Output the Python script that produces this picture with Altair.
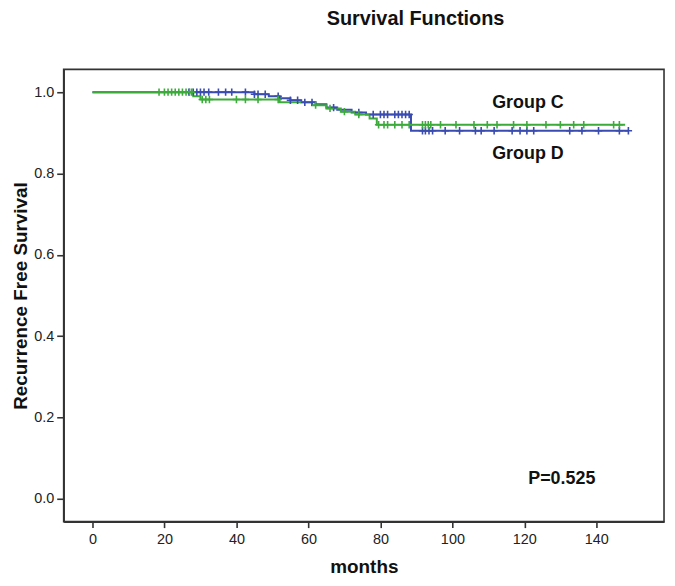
import altair as alt
import pandas as pd

# Kaplan-Meier step curves (time in months, survival)
c_time = [0, 28, 30, 52, 61, 65, 69, 73, 77, 79, 148]
c_surv = [1.0, 0.99, 0.982, 0.975, 0.968, 0.96, 0.952, 0.945, 0.935, 0.92, 0.92]
d_time = [0, 45, 49, 52, 55, 58, 62, 65, 68, 72, 76, 88.5, 149]
d_surv = [1.0, 0.995, 0.99, 0.985, 0.98, 0.975, 0.97, 0.962, 0.957, 0.95, 0.945, 0.905, 0.905]

# censored observations
c_cens = [18.5, 20, 21, 22, 23, 24, 25, 26, 27, 27.6, 30.5, 31.5, 32.5, 40, 42.5, 46, 51.6,
          62, 66, 70, 74, 79.5, 81, 82, 84, 86, 88, 91.7, 92.5, 93.3, 94, 96.7, 101, 106,
          109.7, 112.4, 117, 120.7, 126, 130, 133.7, 136.5, 144.8, 146.4]
d_cens = [26.8, 28, 29, 30, 31, 32.3, 35, 37, 38.7, 42.5, 45, 46, 48, 51.6, 55, 57, 59, 61,
          67, 74, 78, 80, 81, 82, 84, 85, 86, 87, 88, 91.7, 92.5, 93.5, 94.5, 98, 102,
          106.4, 108, 111.6, 116.6, 118.8, 120.7, 122.6, 132.6, 136, 140.6, 146.4, 148.9]

groups = ["Group C", "Group D"]
colors = ["#3CAB3C", "#3A4BB2"]
title_text = "Survival Functions"
p_text = "P=0.525"


def surv_at(t, times, survs):
    v = survs[0]
    for tt, ss in zip(times, survs):
        if tt <= t:
            v = ss
    return v


line_df = pd.concat([
    pd.DataFrame({"t": d_time, "s": d_surv, "g": groups[1]}),
    pd.DataFrame({"t": c_time, "s": c_surv, "g": groups[0]}),
])
cens_df = pd.concat([
    pd.DataFrame({"t": d_cens, "s": [surv_at(t, d_time, d_surv) for t in d_cens], "g": groups[1]}),
    pd.DataFrame({"t": c_cens, "s": [surv_at(t, c_time, c_surv) for t in c_cens], "g": groups[0]}),
])
label_df = pd.DataFrame({"t": [121, 121, 130.4], "s": [0.973, 0.848, 0.049],
                         "txt": [groups[0], groups[1], p_text]})

FONT = "Arial, Liberation Sans"
xs = alt.Scale(domain=[-8, 158.8], nice=False, zero=False)
ys = alt.Scale(domain=[-0.056, 1.056], nice=False, zero=False)
col = alt.Color("g:N", scale=alt.Scale(domain=groups, range=colors), legend=None)

xax = alt.X("t:Q", scale=xs, title="months",
            axis=alt.Axis(values=[0, 20, 40, 60, 80, 100, 120, 140], grid=False,
                          tickSize=6, labelPadding=5, titlePadding=12))
yax = alt.Y("s:Q", scale=ys, title="Recurrence Free Survival",
            axis=alt.Axis(values=[0, 0.2, 0.4, 0.6, 0.8, 1.0], format=".1f", grid=False,
                          tickSize=7, labelPadding=3, titlePadding=3))

lines = alt.Chart(line_df).mark_line(interpolate="step-after", strokeWidth=2).encode(
    x=xax, y=yax, color=col, detail="g:N", order=alt.Order("t:Q"))

cens = alt.Chart(cens_df).mark_point(
    shape="M-1,0L1,0M0,-1L0,1", size=55, filled=False, strokeWidth=1.6, opacity=1
).encode(x="t:Q", y="s:Q", color=col)

labels = alt.Chart(label_df).mark_text(
    font=FONT, fontSize=18, fontWeight="bold", color="#111", align="center"
).encode(x="t:Q", y="s:Q", text="txt:N")

chart = alt.layer(lines, cens, labels).properties(
    width=604, height=455,
    autosize=alt.AutoSizeParams(type="none"),
    padding={"left": 56, "top": 60, "right": 3, "bottom": 63},
    title=alt.TitleParams(title_text, anchor="middle", dx=52, offset=41,
                          font=FONT, fontSize=20, fontWeight="bold", color="#111"),
).configure_view(stroke="#333", strokeWidth=1.6).configure_axis(
    domainColor="#333", domainWidth=1.6, tickColor="#333", tickWidth=1.6,
    labelFont=FONT, labelFontSize=14.5, labelColor="#222",
    titleFont=FONT, titleFontSize=19, titleFontWeight="bold", titleColor="#111",
)

chart.save("out.html", embed_options={"renderer": "svg", "actions": False})
